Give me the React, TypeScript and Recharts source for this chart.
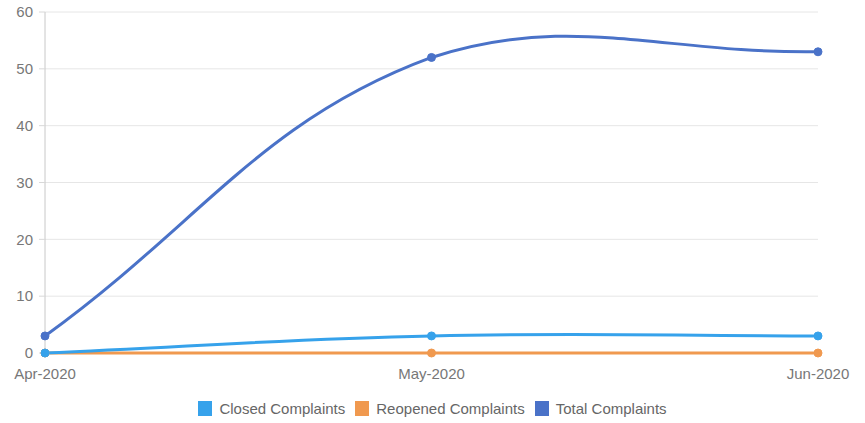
import React from "react";
import { LineChart, Line, XAxis, YAxis, CartesianGrid, Legend } from "recharts";

const months = ["Apr-2020", "May-2020", "Jun-2020"];
const closedComplaints = [0, 3, 3];
const reopenedComplaints = [0, 0, 0];
const totalComplaints = [3, 52, 53];
const yTicks = [0, 10, 20, 30, 40, 50, 60];

const SERIES = [
    { key: "closed", name: "Closed Complaints", color: "#36a2eb" },
    { key: "reopened", name: "Reopened Complaints", color: "#f0994f" },
    { key: "total", name: "Total Complaints", color: "#4a72c8" },
];

const W = 865;
const H = 423;
const MARGIN = { top: 12, right: 47, left: 0, bottom: 0 };
const PLOT_BOTTOM = 353;

const data = months.map((m, i) => ({
    month: m,
    closed: closedComplaints[i],
    reopened: reopenedComplaints[i],
    total: totalComplaints[i],
}));

// spline like chart.js (tension 0.4), control points capped to plot area
function splineCurve(tension: number, top: number, bottom: number) {
    return (context: any) => {
        let pts: [number, number][] = [];
        return {
            areaStart() {},
            areaEnd() {},
            lineStart() {
                pts = [];
            },
            point(x: number, y: number) {
                pts.push([+x, +y]);
            },
            lineEnd() {
                if (!pts.length) return;
                const cps = pts.map((cur, i) => {
                    const prev = pts[i - 1] || cur;
                    const next = pts[i + 1] || cur;
                    const d01 = Math.hypot(cur[0] - prev[0], cur[1] - prev[1]);
                    const d12 = Math.hypot(next[0] - cur[0], next[1] - cur[1]);
                    const sum = d01 + d12 || 1;
                    const fa = (tension * d01) / sum;
                    const fb = (tension * d12) / sum;
                    const dx = next[0] - prev[0];
                    const dy = next[1] - prev[1];
                    const cap = (v: number) => Math.max(top, Math.min(bottom, v));
                    return {
                        px: cur[0] - fa * dx,
                        py: cap(cur[1] - fa * dy),
                        nx: cur[0] + fb * dx,
                        ny: cap(cur[1] + fb * dy),
                    };
                });
                context.moveTo(pts[0][0], pts[0][1]);
                for (let i = 1; i < pts.length; i++) {
                    context.bezierCurveTo(
                        cps[i - 1].nx, cps[i - 1].ny,
                        cps[i].px, cps[i].py,
                        pts[i][0], pts[i][1]
                    );
                }
            },
        };
    };
}

const curve = splineCurve(0.4, MARGIN.top, PLOT_BOTTOM);

function LegendBox() {
    return (
        <div style={{ display: "flex", justifyContent: "center", alignItems: "center", height: 30, fontSize: 15, color: "#666" }}>
            {SERIES.map((s) => (
                <div key={s.key} style={{ display: "flex", alignItems: "center", margin: "0 5px" }}>
                    <span style={{ width: 14, height: 15, background: s.color, display: "inline-block", marginRight: 7 }} />
                    <span>{s.name}</span>
                </div>
            ))}
        </div>
    );
}

export default function App() {
    const drawOrder = [SERIES[2], SERIES[1], SERIES[0]];
    return (
        <div style={{ position: "absolute", left: 0, top: 0, fontFamily: "'Liberation Sans', Arial, sans-serif" }}>
            <LineChart width={W} height={H} data={data} margin={MARGIN}>
                <CartesianGrid vertical={false} stroke="#e6e6e6" />
                <XAxis
                    dataKey="month"
                    axisLine={false}
                    tickLine={false}
                    tickMargin={9}
                    height={40}
                    tick={{ fontSize: 15, fill: "#777" }}
                    interval={0}
                />
                <YAxis
                    width={45}
                    domain={[0, 60]}
                    ticks={yTicks}
                    axisLine={{ stroke: "#c8c8c8" }}
                    tickLine={{ stroke: "#d8d8d8" }}
                    tickSize={6}
                    tickMargin={6}
                    tick={{ fontSize: 15, fill: "#777" }}
                />
                <Legend
                    verticalAlign="bottom"
                    height={30}
                    width={W}
                    wrapperStyle={{ left: 0 }}
                    content={() => <LegendBox />}
                />
                {drawOrder.map((s) => (
                    <Line
                        key={s.key}
                        type={curve as any}
                        dataKey={s.key}
                        name={s.name}
                        stroke={s.color}
                        strokeWidth={3}
                        dot={{ r: 4, fill: s.color, stroke: s.color, strokeWidth: 1 }}
                        activeDot={false}
                        isAnimationActive={false}
                    />
                ))}
            </LineChart>
        </div>
    );
}
